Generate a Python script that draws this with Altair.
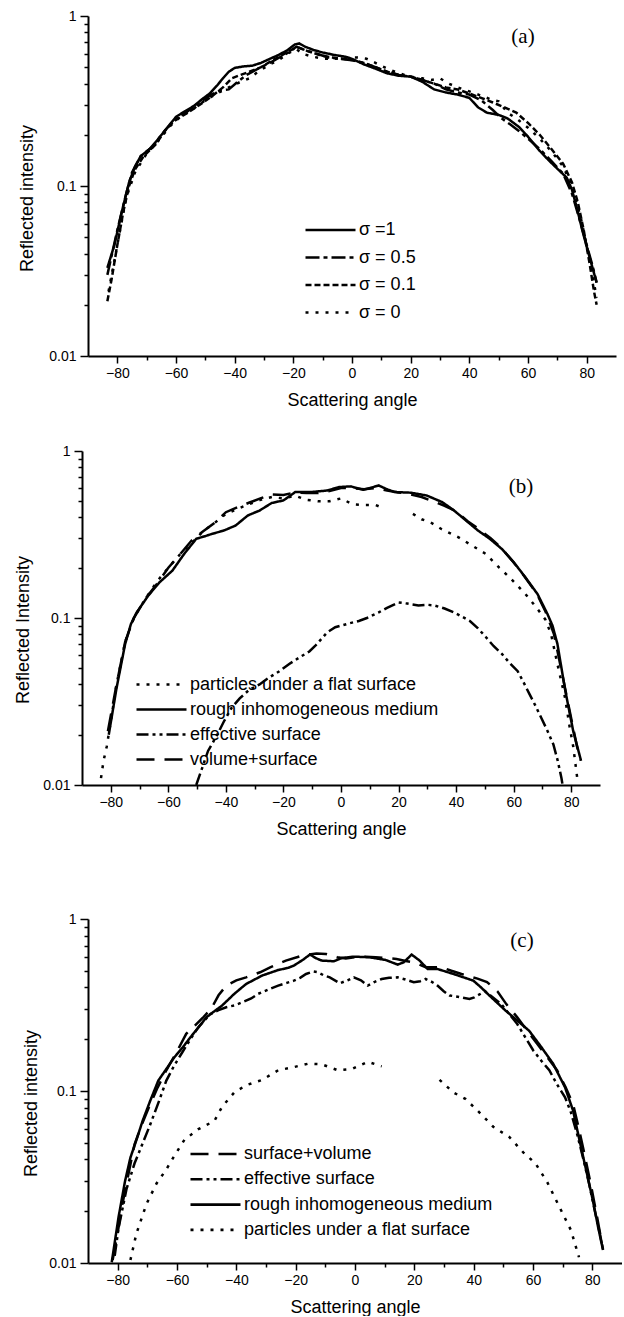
import altair as alt
import pandas as pd

# ---------------- panel (a): effect of sigma ----------------
a_s1_angle = [-83.4, -81, -78.6, -76, -74, -72, -69, -66.4, -63, -60, -57, -54, -51, -48.5, -46, -44, -42, -40,
              -37, -34, -31, -28, -25, -22, -19.5, -18, -16, -13, -10, -6, -2, 0, 4, 8, 12, 16, 20, 24, 28, 32,
              36, 40, 43, 46, 50, 53, 57, 60, 63.7, 67, 70.5, 73.2, 75, 76.6, 78.5, 80, 82, 83.4]
a_s1_val = [0.033, 0.045, 0.069, 0.105, 0.13, 0.15, 0.165, 0.186, 0.22, 0.255, 0.275, 0.295, 0.325, 0.35, 0.39,
            0.43, 0.47, 0.495, 0.505, 0.51, 0.53, 0.56, 0.59, 0.63, 0.68, 0.69, 0.66, 0.63, 0.61, 0.59, 0.575,
            0.56, 0.52, 0.49, 0.46, 0.445, 0.44, 0.41, 0.37, 0.355, 0.345, 0.33, 0.29, 0.27, 0.262, 0.25, 0.222,
            0.195, 0.163, 0.142, 0.124, 0.112, 0.095, 0.075, 0.055, 0.044, 0.033, 0.027]

a_s05_angle = [-83.4, -80, -77, -75, -72, -68, -64, -60, -56, -52, -48, -45, -42, -39, -36, -32, -28, -24, -21,
               -19, -16, -12, -8, -4, 0, 4, 8, 12, 16, 20, 24, 28, 32, 36, 40, 44, 48, 51, 54, 57, 60, 64, 68,
               72, 75, 78, 80, 82, 83.4]
a_s05_val = [0.03, 0.055, 0.09, 0.12, 0.15, 0.17, 0.21, 0.25, 0.275, 0.31, 0.345, 0.365, 0.37, 0.41, 0.45, 0.49,
             0.53, 0.58, 0.62, 0.66, 0.63, 0.6, 0.57, 0.56, 0.55, 0.53, 0.5, 0.47, 0.45, 0.44, 0.42, 0.4, 0.37,
             0.355, 0.345, 0.32, 0.28, 0.25, 0.23, 0.21, 0.19, 0.165, 0.14, 0.118, 0.09, 0.06, 0.045, 0.034, 0.027]

a_s01_angle = [-83.4, -82, -80, -78, -76, -74, -71, -67, -63, -60, -56, -52, -48, -44, -41, -38, -35, -31, -27,
               -23, -20, -18, -15, -11, -7, -3, 0, 4, 8, 12, 16, 20, 24, 28, 32, 36, 40, 44, 48, 52, 56, 60, 64,
               68, 72, 75, 77, 79, 81, 82.5, 83.4]
a_s01_val = [0.021, 0.028, 0.045, 0.07, 0.1, 0.125, 0.15, 0.175, 0.22, 0.245, 0.27, 0.3, 0.335, 0.38, 0.43, 0.45,
             0.47, 0.5, 0.55, 0.6, 0.64, 0.65, 0.62, 0.59, 0.57, 0.56, 0.55, 0.53, 0.5, 0.47, 0.45, 0.44, 0.42,
             0.4, 0.38, 0.37, 0.35, 0.33, 0.31, 0.29, 0.27, 0.235, 0.2, 0.165, 0.135, 0.105, 0.08, 0.055, 0.035,
             0.024, 0.02]

a_s0_angle = [-83, -80, -77, -74, -70, -66, -62, -58, -54, -50, -46, -42, -38, -35, -32, -28, -25, -22, -19, -17,
              -14, -10, -6, -2, 2, 5, 8, 12, 16, 20, 24, 27, 30, 33, 36, 40, 44, 48, 50, 53, 56, 60, 64, 68, 72,
              75, 78, 80, 82, 83.4]
a_s0_val = [0.024, 0.045, 0.085, 0.12, 0.155, 0.185, 0.225, 0.26, 0.285, 0.32, 0.35, 0.38, 0.41, 0.43, 0.47, 0.52,
            0.55, 0.6, 0.64, 0.6, 0.58, 0.56, 0.56, 0.57, 0.57, 0.56, 0.53, 0.49, 0.46, 0.44, 0.43, 0.42, 0.43,
            0.4, 0.38, 0.36, 0.34, 0.32, 0.315, 0.27, 0.25, 0.22, 0.19, 0.16, 0.13, 0.1, 0.065, 0.045, 0.03, 0.022]

# ---------------- panel (b) ----------------
b_part_angle_1 = [-83.4, -82.5, -81.4, -80, -78, -75, -72, -68, -64, -60, -56, -52, -48, -44, -40, -36, -32, -28,
                  -24, -20, -16, -12, -8, -4, 0, 4, 8, 12, 14]
b_part_val_1 = [0.011, 0.014, 0.017, 0.024, 0.04, 0.072, 0.1, 0.13, 0.165, 0.2, 0.24, 0.28, 0.33, 0.37, 0.42,
                0.45, 0.48, 0.51, 0.53, 0.52, 0.54, 0.51, 0.5, 0.5, 0.52, 0.48, 0.475, 0.475, 0.46]
b_part_angle_2 = [25, 28, 31, 35, 40.7, 45, 50.3, 55, 58.6, 64.1, 68, 71, 73, 75.2, 77.9, 79.5, 80.7, 82.3]
b_part_val_2 = [0.42, 0.39, 0.375, 0.34, 0.305, 0.275, 0.242, 0.2, 0.175, 0.139, 0.115, 0.098, 0.08, 0.053,
                0.033, 0.022, 0.017, 0.0103]

b_rough_angle = [-80.7, -78, -75, -73, -71, -67, -63, -58.6, -54.5, -50.3, -47, -44.8, -40.7, -36.6, -32.4,
                 -28.3, -24.1, -20, -17, -15.9, -10.3, -4.8, -0.7, 3.4, 7.6, 10, 13.1, 16, 18.6, 24.1, 29.7,
                 35.2, 39.3, 43.4, 47.6, 51.7, 55.9, 60, 64.1, 68.3, 71.7, 73.5, 75.2, 77.9, 80.7, 83.4]
b_rough_val = [0.02, 0.038, 0.07, 0.092, 0.108, 0.136, 0.164, 0.192, 0.242, 0.298, 0.31, 0.319, 0.334, 0.358,
               0.411, 0.44, 0.488, 0.506, 0.55, 0.568, 0.568, 0.58, 0.608, 0.614, 0.586, 0.6, 0.622, 0.59, 0.568,
               0.563, 0.542, 0.494, 0.44, 0.384, 0.334, 0.298, 0.259, 0.216, 0.175, 0.139, 0.106, 0.09, 0.07,
               0.037, 0.021, 0.014]

b_eff_angle = [-50.3, -48, -46.2, -43, -40.7, -38, -35.2, -32, -28.3, -25, -21.4, -18, -14.5, -11, -9, -6.5,
               -4.8, -2, 0, 3, 6.2, 9, 13.1, 16, 20, 23, 26.9, 30, 32.4, 36, 39.3, 42, 44.8, 47.5, 50.3, 53,
               55.9, 58.5, 61.4, 63.5, 65.5, 67.5, 69.7, 71.8, 73.8, 75.3, 76.6, 77]
b_eff_val = [0.01, 0.013, 0.016, 0.02, 0.024, 0.029, 0.033, 0.037, 0.04, 0.044, 0.048, 0.053, 0.058, 0.063,
             0.068, 0.076, 0.082, 0.088, 0.09, 0.093, 0.096, 0.1, 0.108, 0.115, 0.124, 0.122, 0.119, 0.12, 0.119,
             0.114, 0.108, 0.102, 0.096, 0.087, 0.077, 0.068, 0.061, 0.054, 0.048, 0.041, 0.035, 0.03, 0.025,
             0.021, 0.0175, 0.014, 0.011, 0.01]

b_vs_angle = [-81, -78, -75, -72, -68, -64, -60, -56, -52, -48, -44, -40, -36, -32, -28, -24, -20, -16, -12, -8,
              -4, 0, 4, 8, 12, 16, 20, 24, 28, 32, 36, 40, 44, 48, 52, 56, 60, 64, 68, 71, 74, 77, 80, 82, 83.4]
b_vs_val = [0.021, 0.04, 0.072, 0.1, 0.13, 0.16, 0.2, 0.24, 0.29, 0.33, 0.37, 0.43, 0.46, 0.49, 0.52, 0.55,
            0.545, 0.565, 0.56, 0.56, 0.575, 0.6, 0.6, 0.59, 0.6, 0.58, 0.565, 0.55, 0.53, 0.5, 0.47, 0.435, 0.38,
            0.34, 0.3, 0.26, 0.215, 0.175, 0.14, 0.11, 0.08, 0.045, 0.025, 0.017, 0.014]

# ---------------- panel (c) ----------------
c_sv_angle = [-81.7, -80, -78.4, -76.5, -74.3, -72, -69, -66.5, -63.6, -60, -56.9, -54, -51, -48.5, -46, -43.4,
              -40, -36.7, -32, -28.6, -23.3, -17.9, -13, -9.8, -6, -3.1, 0, 3.6, 7, 10.3, 14, 17.1, 20, 23.8,
              29.2, 32.5, 35.9, 41.3, 44.5, 48, 51, 54.7, 58, 61.4, 64.5, 68.1, 71, 73.5, 75.5, 77.6, 79.6, 81.6,
              83.6]
c_sv_val = [0.0104, 0.015, 0.022, 0.032, 0.049, 0.063, 0.084, 0.105, 0.132, 0.17, 0.215, 0.24, 0.27, 0.3, 0.36,
            0.41, 0.44, 0.458, 0.49, 0.524, 0.573, 0.612, 0.63, 0.626, 0.6, 0.59, 0.6, 0.604, 0.6, 0.594, 0.585,
            0.57, 0.56, 0.524, 0.524, 0.5, 0.479, 0.45, 0.43, 0.38, 0.32, 0.268, 0.225, 0.188, 0.16, 0.132, 0.105,
            0.084, 0.06, 0.041, 0.028, 0.0185, 0.012]

c_eff_angle = [-81, -79.7, -77, -74.3, -71.5, -69, -66, -63.6, -61, -58.2, -55.5, -52.8, -50.5, -48.8, -46, -43.4,
               -40.5, -38, -35, -32.7, -29, -25.9, -23, -20.6, -18.5, -16.5, -14, -12.5, -10.5, -8.5, -5.1, -2.5,
               -0.4, 2, 4.3, 6.5, 9, 11.5, 14.4, 17, 19.8, 22, 23.8, 26, 27.8, 29.9, 31.9, 33.9, 35.9, 38.6, 40.2,
               41.3, 43.9, 46.5, 49.3, 52, 54.7, 57.4, 60.1, 62.8, 65.5, 68, 70.8, 72.8, 74.9, 77, 78.9, 80.6, 82.3,
               83.2]
c_eff_val = [0.011, 0.016, 0.027, 0.038, 0.05, 0.064, 0.088, 0.115, 0.14, 0.168, 0.2, 0.235, 0.26, 0.28, 0.295,
             0.307, 0.315, 0.328, 0.345, 0.367, 0.39, 0.41, 0.425, 0.438, 0.455, 0.479, 0.495, 0.49, 0.47, 0.458,
             0.423, 0.44, 0.458, 0.44, 0.41, 0.43, 0.448, 0.455, 0.458, 0.445, 0.429, 0.435, 0.448, 0.43, 0.41,
             0.38, 0.359, 0.355, 0.35, 0.343, 0.35, 0.359, 0.38, 0.35, 0.32, 0.28, 0.245, 0.205, 0.172, 0.15,
             0.132, 0.11, 0.092, 0.075, 0.056, 0.04, 0.029, 0.021, 0.0155, 0.013]

c_rough_angle = [-82, -79.7, -77.5, -75.7, -73.5, -71.6, -69, -66.3, -63.5, -60.9, -58, -55.5, -52.7, -50.1, -47.5,
                 -44.8, -42.7, -40.7, -36.7, -31.3, -25.9, -22.5, -20.6, -17.5, -15.2, -13, -11.2, -7.1, -4.4,
                 -0.4, 5, 10.3, 14.4, 16.4, 19.1, 21.8, 24.5, 27.8, 33.2, 39.9, 42.5, 45.3, 50.7, 54.7, 58.7, 62.8,
                 66.8, 70.8, 73.5, 76.2, 78.2, 80.2, 82, 83.6]
c_rough_val = [0.0101, 0.0185, 0.03, 0.041, 0.053, 0.067, 0.088, 0.115, 0.135, 0.157, 0.18, 0.205, 0.235, 0.268,
               0.29, 0.314, 0.34, 0.367, 0.419, 0.469, 0.505, 0.52, 0.536, 0.58, 0.621, 0.59, 0.573, 0.568, 0.594,
               0.604, 0.599, 0.578, 0.543, 0.56, 0.621, 0.573, 0.512, 0.512, 0.479, 0.438, 0.4, 0.359, 0.294,
               0.257, 0.224, 0.18, 0.144, 0.105, 0.077, 0.047, 0.033, 0.023, 0.016, 0.0119]

c_part_angle_1 = [-75.7, -73.7, -70.3, -66.9, -63.6, -60.9, -57.5, -52.8, -47.4, -44.8, -40.7, -36.7, -31.3,
                  -25.9, -21.2, -15.9, -11.2, -5.8, -1.1, 4.3, 9]
c_part_val_1 = [0.0104, 0.0148, 0.022, 0.029, 0.035, 0.042, 0.052, 0.06, 0.067, 0.081, 0.098, 0.108, 0.116, 0.132,
                0.137, 0.144, 0.143, 0.132, 0.134, 0.148, 0.139]
c_part_angle_2 = [28.5, 33.2, 37.2, 41.3, 46.6, 52, 56.7, 60.8, 64.8, 69.5, 72.8, 75.5]
c_part_val_2 = [0.116, 0.098, 0.09, 0.077, 0.062, 0.054, 0.044, 0.038, 0.0295, 0.0202, 0.0155, 0.0108]

# line styles
SOLID = [1, 0]
DOT = [3, 7]
SHORT_DASH = [6, 3]
LONG_DASH = [18, 10]
DASH_DOT = [14, 4, 4, 4]
DASH_DOT_DOT = [12, 4, 3, 4, 3, 4]

P_FLAT = "particles under a flat surface"
P_ROUGH = "rough inhomogeneous medium"
P_EFF = "effective surface"

SANS = "Liberation Sans"
SERIF = "Liberation Serif"

x_ticks = list(range(-80, 81, 10))
y_ticks = [round(m * 10 ** e, 4) for e in (-2, -1) for m in range(1, 10)] + [1]
DECADE = "abs(log(datum.value)/LN10 - round(log(datum.value)/LN10)) < 0.001"


def frame(curves):
    rows = []
    for name, segments in curves:
        for k, (xs, ys) in enumerate(segments):
            for x, y in zip(xs, ys):
                rows.append({"angle": x, "intensity": y, "series": name, "seg": f"{name}#{k}"})
    return pd.DataFrame(rows)


def panel(curves, order, dashes, tag, ylabel, width, height, x_range, y_range,
          y_shift, ytitle_x, ytitle_y, legend_x, legend_y, row_pad, tag_x, tag_y):
    df = frame(curves)
    x_axis = alt.Axis(
        values=x_ticks, title="Scattering angle", grid=False,
        domainColor="black", domainWidth=2, tickColor="black", tickWidth=1.5,
        tickSize={"condition": {"test": "datum.value % 20 == 0", "value": 7}, "value": 4},
        labelExpr="datum.value % 20 == 0 ? datum.label : ''",
        labelFont=SANS, labelFontSize=14, labelColor="black", labelPadding=3,
        labelFlush=False, labelOverlap=False,
        titleFont=SANS, titleFontSize=18, titleFontWeight="normal", titleColor="black",
        titleY=44, titleBaseline="middle",
    )
    y_axis = alt.Axis(
        values=y_ticks, title=ylabel, grid=False, offset=y_shift,
        domainColor="black", domainWidth=2, tickColor="black", tickWidth=1.5,
        tickSize={"condition": {"test": DECADE, "value": 8}, "value": 4},
        labelExpr=f"{DECADE} ? format(datum.value, '~g') : ''",
        labelFont=SANS, labelFontSize=14, labelColor="black", labelPadding=4,
        labelOverlap=False,
        titleFont=SANS, titleFontSize=18, titleFontWeight="normal", titleColor="black",
        titleX=ytitle_x, titleY=ytitle_y, titleAngle=270, titleAlign="center", titleBaseline="middle",
    )
    legend = alt.Legend(
        orient="none", legendX=legend_x, legendY=legend_y, title=None,
        symbolType="stroke", symbolSize=2500, symbolStrokeWidth=2.6, symbolStrokeColor="black",
        labelFont=SANS, labelFontSize=18, labelColor="black", labelLimit=400, labelOffset=2,
        clipHeight=24, rowPadding=row_pad, padding=0,
    )
    lines = alt.Chart(df).mark_line(color="black", strokeWidth=2.5).encode(
        x=alt.X("angle:Q", scale=alt.Scale(domain=[-90, 90], range=x_range, nice=False, zero=False), axis=x_axis),
        y=alt.Y("intensity:Q", scale=alt.Scale(type="log", domain=[0.01, 1], range=y_range, nice=False),
                axis=y_axis),
        strokeDash=alt.StrokeDash("series:N", scale=alt.Scale(domain=order, range=dashes), legend=legend),
        detail="seg:N",
    )
    label = alt.Chart(pd.DataFrame({"tag": [tag]})).mark_text(
        font=SERIF, fontSize=21, color="black", align="center", baseline="middle"
    ).encode(x=alt.value(tag_x), y=alt.value(tag_y), text="tag:N")
    return alt.layer(lines, label).properties(width=width, height=height)


panel_a = panel(
    [("σ =1", [(a_s1_angle, a_s1_val)]),
     ("σ = 0.5", [(a_s05_angle, a_s05_val)]),
     ("σ = 0.1", [(a_s01_angle, a_s01_val)]),
     ("σ = 0", [(a_s0_angle, a_s0_val)])],
    ["σ =1", "σ = 0.5", "σ = 0.1", "σ = 0"], [SOLID, DASH_DOT, SHORT_DASH, DOT],
    "(a)", "Reflected intensity", 528, 340, [0, 528], [340, 0],
    0, -60.5, 182, 216, 202, 3.5, 435, 21,
)

panel_b = panel(
    [(P_FLAT, [(b_part_angle_1, b_part_val_1), (b_part_angle_2, b_part_val_2)]),
     (P_ROUGH, [(b_rough_angle, b_rough_val)]),
     (P_EFF, [(b_eff_angle, b_eff_val)]),
     ("volume+surface", [(b_vs_angle, b_vs_val)])],
    [P_FLAT, P_ROUGH, P_EFF, "volume+surface"], [DOT, SOLID, DASH_DOT_DOT, LONG_DASH],
    "(b)", "Reflected Intensity", 512, 334, [-6, 512], [334, 0],
    6, -58.3, 178.5, 47, 221.5, 1, 433, 36,
)

panel_c = panel(
    [("surface+volume", [(c_sv_angle, c_sv_val)]),
     (P_EFF, [(c_eff_angle, c_eff_val)]),
     (P_ROUGH, [(c_rough_angle, c_rough_val)]),
     (P_FLAT, [(c_part_angle_1, c_part_val_1), (c_part_angle_2, c_part_val_2)])],
    ["surface+volume", P_EFF, P_ROUGH, P_FLAT], [LONG_DASH, DASH_DOT_DOT, SOLID, DOT],
    "(c)", "Reflected intensity", 534, 383, [0, 534], [383, 39],
    0, -56.4, 223, 101, 262, 1.3, 434, 61,
)

chart = alt.vconcat(panel_a, panel_b, panel_c, spacing=95, bounds="flush").resolve_scale(
    x="independent", y="independent", strokeDash="independent"
).resolve_legend(strokeDash="independent").properties(
    padding={"left": 14, "top": 9, "right": 0, "bottom": 0}, background="white"
).configure_view(stroke=None)

chart.save("out.html", embed_options={"renderer": "svg", "actions": False})
